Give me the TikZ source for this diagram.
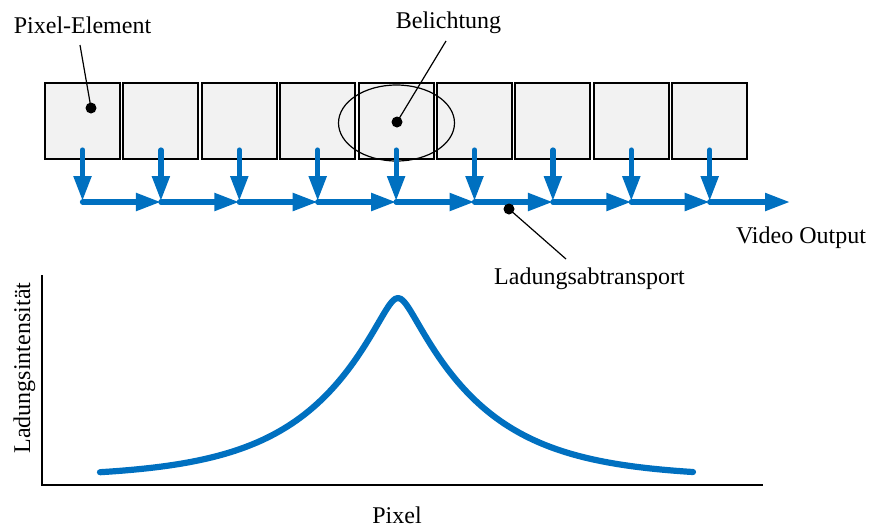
\documentclass[tikz,border=0pt]{standalone}
\usepackage{fontspec}
\setmainfont{Liberation Serif}
\usetikzlibrary{arrows.meta,shapes.geometric}
\definecolor{flow}{HTML}{0070C0}
\definecolor{cellfill}{HTML}{F2F2F2}
\begin{document}
\begin{tikzpicture}[x=0.5pt,y=-0.5pt,
  cell/.style={draw=black, line width=1pt, fill=cellfill, minimum width=37.5pt, minimum height=38pt, inner sep=0pt, outer sep=0pt},
  flowarrow/.style={draw=flow, line width=2.6pt, line cap=round, -{Triangle[length=12.5pt,width=8.5pt]}},
  dot/.style={circle, fill=black, minimum size=5.5pt, inner sep=0pt},
  leader/.style={draw=black, line width=0.6pt},
  lbl/.style={font=\fontsize{12}{14}\selectfont, inner sep=0pt, anchor=base},
  axisline/.style={draw=black, line width=0.8pt},
  curve/.style={draw=flow, line width=3.1pt, line cap=round, line join=round}]
\useasboundingbox (0,0) rectangle (872,526);

% pixel cells
\foreach \i in {1,...,9} {
  \node[cell] (p\i) at ({82.5+78.4*(\i-1)},121) {};
}
% exposure ellipse
\node[draw=black, ellipse, line width=0.6pt, minimum width=58pt, minimum height=38pt, inner sep=0pt] (bel) at (396.5,123) {};

% connector coordinates
\foreach \i in {1,...,9} {
  \coordinate (t\i) at ({82.5+78.4*(\i-1)},150);
  \coordinate (v\i) at ({82.5+78.4*(\i-1)},201);
  \coordinate (j\i) at ({82.5+78.4*(\i-1)},202);
}
\coordinate (out) at (790,202);

% charge transfer arrows
\foreach \i in {1,...,9} {
  \draw[flowarrow] (t\i) -- (v\i);
}
\foreach \i [evaluate=\i as \n using int(\i+1)] in {1,...,8} {
  \draw[flowarrow] (j\i) -- (j\n);
}
\draw[flowarrow] (j9) -- (out);

% labels
\node[lbl] (pe) at (82.5,33) {Pixel-Element};
\node[lbl] (be) at (448.5,28) {Belichtung};
\node[lbl] (vo) at (801,243) {Video Output};
\node[lbl] (la) at (589.5,284) {Ladungsabtransport};
\node[lbl] (px) at (397,523) {Pixel};
\node[lbl, rotate=90] (li) at (30,368) {Ladungsintensität};

% dots and leaders
\node[dot] (pd) at (91,108) {};
\node[dot] (bd) at (397,122) {};
\node[dot] (ld) at (509,209) {};
\coordinate (pl) at (80,45);
\coordinate (bl) at (446,41);
\coordinate (ll) at (566,259);
\draw[leader] (pl) -- (pd.center);
\draw[leader] (bl) -- (bd.center);
\draw[leader] (ld.center) -- (ll);

% axes
\coordinate (ytop) at (42,275);
\coordinate (org) at (42,485);
\coordinate (xend) at (763,485);
\draw[axisline] (ytop) -- (org) -- (xend);

% intensity curve
\draw[curve] plot[domain=100:693, samples=200] (\x, {472-179.07*(exp(-(10*sqrt(((\x-398)/10)^2+1)-10)/80)-0.0283)});
\end{tikzpicture}
\end{document}
